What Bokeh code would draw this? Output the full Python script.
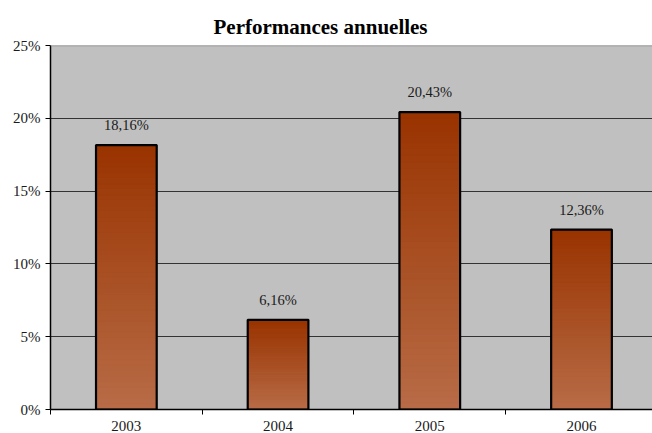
from bokeh.plotting import figure
from bokeh.models import Range1d, FixedTicker, Span, ColumnDataSource, Title
from bokeh.embed import file_html
from bokeh.resources import INLINE
from bokeh.core.properties import value

# ---- data ----
categories = ["2003", "2004", "2005", "2006"]
performances = [18.16, 6.16, 20.43, 12.36]
y_ticks = [0, 5, 10, 15, 20, 25]
y_tick_labels = ["0%", "5%", "10%", "15%", "20%", "25%"]
title_text = "Performances annuelles"

FONT = "Liberation Serif"
TOP_COL = (0x99, 0x33, 0x00)
BOT_COL = (0xB8, 0x6C, 0x47)
BAR_W = 0.40

centers = [i + 0.5 for i in range(len(categories))]

p = figure(width=652, height=433, output_backend="svg", toolbar_location=None,
           x_range=Range1d(0, 3.968), y_range=Range1d(y_ticks[0], y_ticks[-1]),
           min_border_left=50, min_border_right=0, min_border_top=45,
           min_border_bottom=23)
p.title = Title(text=title_text, align="left", offset=163,
                text_font=FONT, text_font_size="21px", text_font_style="bold",
                text_color="#000000", standoff=13)
p.background_fill_color = "#C0C0C0"
p.border_fill_color = "#FFFFFF"
p.outline_line_color = None

# gridlines
p.xgrid.visible = False
p.ygrid.ticker = FixedTicker(ticks=y_ticks[:-1])
p.ygrid.grid_line_color = "#333333"
p.ygrid.grid_line_width = 1
p.add_layout(Span(location=y_ticks[-1], dimension="width",
                  line_color="#888888", line_width=1.5))

# gradient bars built from slices of each bar's own height
N = 48
left, right, bottom, top, colors = [], [], [], [], []
for c, v in zip(centers, performances):
    for i in range(N):
        t = (i + 0.5) / N  # 0 bottom .. 1 top
        rgb = tuple(int(round(BOT_COL[k] + (TOP_COL[k] - BOT_COL[k]) * t)) for k in range(3))
        left.append(c - BAR_W / 2)
        right.append(c + BAR_W / 2)
        bottom.append(v * i / N)
        top.append(v * (i + 1) / N)
        colors.append("#%02x%02x%02x" % rgb)
p.quad(left=left, right=right, bottom=bottom, top=top, fill_color=colors,
       line_color=colors, line_width=1)

src = ColumnDataSource(dict(x=centers, top=performances,
                            lab=[("%.2f" % v).replace(".", ",") + "%" for v in performances]))
p.vbar(x="x", top="top", bottom=0, width=BAR_W, source=src,
       fill_color=None, line_color="#000000", line_width=2.2)
p.text(x="x", y="top", text="lab", source=src, text_align="center",
       text_baseline="bottom", y_offset=-12, text_font=value(FONT),
       text_font_size="14.5px", text_color="#1a1a1a")

# axes
p.xaxis.ticker = FixedTicker(ticks=centers, minor_ticks=list(range(len(categories) + 1)))
p.xaxis.major_label_overrides = {c: lab for c, lab in zip(centers, categories)}
p.xaxis.major_tick_out = 0
p.xaxis.major_tick_in = 0
p.xaxis.minor_tick_out = 5
p.xaxis.minor_tick_in = 0
p.xaxis.minor_tick_line_color = "#000000"
p.xaxis.major_label_standoff = 6
p.xaxis.axis_line_color = "#000000"
p.xaxis.axis_line_width = 1.5
p.xaxis.major_label_text_font = FONT
p.xaxis.major_label_text_font_size = "15px"
p.xaxis.major_label_text_color = "#1a1a1a"

p.yaxis.ticker = FixedTicker(ticks=y_ticks, minor_ticks=[])
p.yaxis.major_label_overrides = {t: lab for t, lab in zip(y_ticks, y_tick_labels)}
p.yaxis.major_tick_out = 5
p.yaxis.major_tick_in = 0
p.yaxis.major_tick_line_color = "#000000"
p.yaxis.major_label_standoff = 5
p.yaxis.axis_line_color = "#000000"
p.yaxis.axis_line_width = 1.5
p.yaxis.major_label_text_font = FONT
p.yaxis.major_label_text_font_size = "15px"
p.yaxis.major_label_text_color = "#1a1a1a"

open("out.html", "w").write(file_html(p, INLINE))
